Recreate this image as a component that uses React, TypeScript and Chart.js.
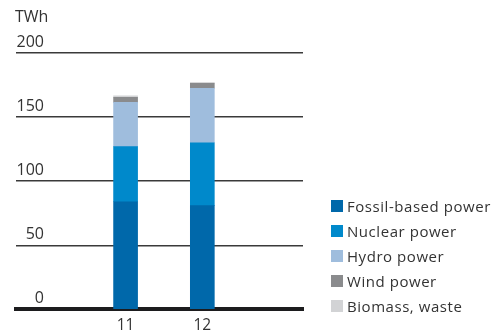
import React, { useEffect, useRef } from "react";
import { Chart, registerables } from "chart.js";

Chart.register(...registerables);

// Electricity generation by source, TWh
const years = [11, 12];
const fossil = [84, 81];
const nuclear = [43, 49];
const hydro = [34.5, 42.5];
const wind = [4, 4];
const biomass = [1, 0];

const seriesNames = [
  "Fossil-based power",
  "Nuclear power",
  "Hydro power",
  "Wind power",
  "Biomass, waste",
];
const seriesColors = ["#0068AA", "#0089CB", "#9FBDDD", "#8A8B8D", "#D2D3D5"];
const seriesValues = [fossil, nuclear, hydro, wind, biomass];

const yTicks = [0, 50, 100, 150, 200];

const FONT = "'Open Sans', sans-serif";
const TEXT = "#333333";

export default function App() {
  const canvasRef = useRef<HTMLCanvasElement | null>(null);

  useEffect(() => {
    const canvas = canvasRef.current;
    if (!canvas) return;
    const chart = new Chart(canvas, {
      type: "bar",
      data: {
        labels: years,
        datasets: seriesNames.map((name, i) => ({
          label: name,
          data: seriesValues[i],
          backgroundColor: seriesColors[i],
          borderWidth: 0,
          barThickness: 24,
        })),
      },
      options: {
        animation: false,
        responsive: false,
        events: [],
        layout: { padding: { left: 15, right: 189, top: 53, bottom: -8 } },
        plugins: {
          legend: { display: false },
          tooltip: { enabled: false },
          title: { display: false },
        },
        scales: {
          x: {
            type: "linear",
            stacked: true,
            offset: false,
            bounds: "data",
            min: 9.572,
            max: 13.312,
            afterBuildTicks: (scale: any) => {
              scale.ticks = years.map((v) => ({ value: v }));
            },
            grid: { display: false, drawTicks: false, offset: false },
            border: { display: true, color: "#1c1c1e", width: 4 },
            ticks: {
              padding: 7,
              color: TEXT,
              font: { family: FONT, size: 15.5 },
              callback: (v: any) => String(v),
            },
          },
          y: {
            stacked: true,
            min: 0,
            max: 200,
            afterBuildTicks: (scale: any) => {
              scale.ticks = yTicks.map((v) => ({ value: v }));
            },
            grid: { color: "#3a3a3a", lineWidth: 1.5, drawTicks: false },
            border: { display: false },
            ticks: {
              mirror: true,
              crossAlign: "far",
              padding: 0.5,
              labelOffset: -11,
              color: TEXT,
              font: { family: FONT, size: 16 },
            },
          },
        },
      },
    });
    return () => chart.destroy();
  }, []);

  return (
    <div
      style={{
        position: "fixed",
        left: 0,
        top: 0,
        width: 492,
        height: 334,
        background: "#ffffff",
        fontFamily: FONT,
        color: TEXT,
      }}
    >
      <canvas
        ref={canvasRef}
        width={492}
        height={334}
        style={{ position: "absolute", left: 0, top: 0, width: 492, height: 334 }}
      />
      <div
        style={{
          position: "absolute",
          left: 15,
          top: 7,
          fontSize: 16,
          lineHeight: "18px",
        }}
      >
        TWh
      </div>
      <div style={{ position: "absolute", left: 331, top: 193.5 }}>
        {seriesNames.map((name, i) => (
          <div
            key={name}
            style={{
              display: "flex",
              alignItems: "center",
              height: 25,
              fontSize: 15,
              lineHeight: "25px",
              letterSpacing: "0.55px",
              whiteSpace: "nowrap",
            }}
          >
            <span
              style={{
                display: "inline-block",
                width: 12,
                height: 12,
                background: seriesColors[i],
                marginRight: 4,
              }}
            />
            {name}
          </div>
        ))}
      </div>
    </div>
  );
}
